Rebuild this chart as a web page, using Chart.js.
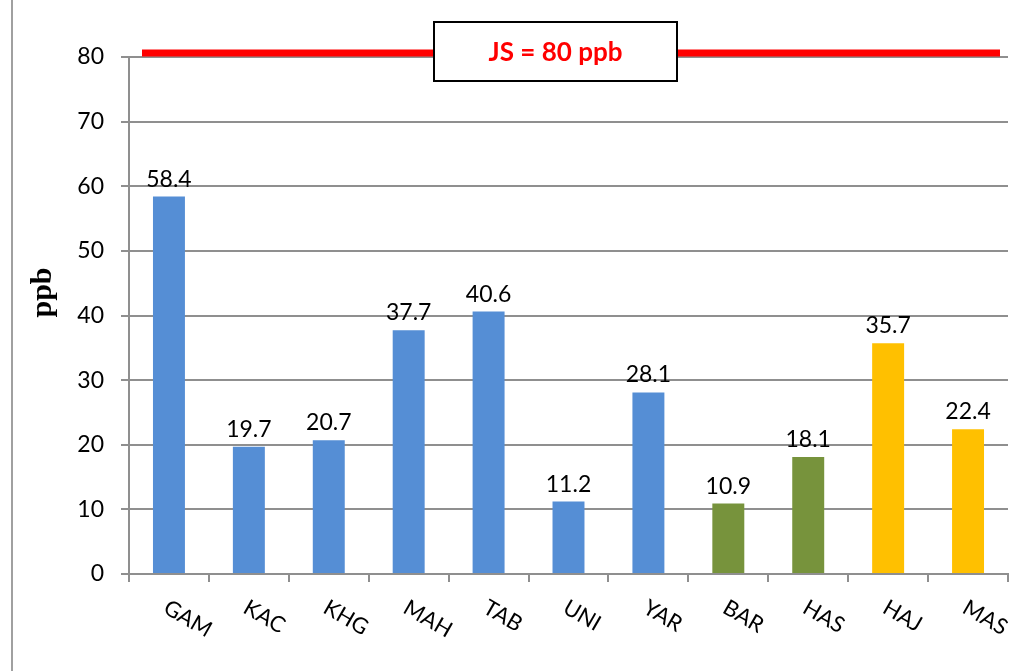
<!DOCTYPE html>
<html>
<head>
<meta charset="utf-8">
<script src="https://cdn.jsdelivr.net/npm/chart.js@4.4.0/dist/chart.umd.min.js"></script>
<style>
  html, body { margin: 0; padding: 0; background: #ffffff; }
  #wrap { position: relative; width: 1022px; height: 671px; overflow: hidden; }
  #frame { position: absolute; left: 11px; top: 0; width: 2px; height: 671px; background: #a0a0a0; }
  canvas { position: absolute; left: 0; top: 0; }
</style>
</head>
<body>
<div id="wrap">
  <div id="frame"></div>
  <canvas id="c" width="1022" height="671"></canvas>
</div>
<script>
// ---- data ----
const categories = ['GAM', 'KAC', 'KHG', 'MAH', 'TAB', 'UNI', 'YAR', 'BAR', 'HAS', 'HAJ', 'MAS'];
const values = [58.4, 19.7, 20.7, 37.7, 40.6, 11.2, 28.1, 10.9, 18.1, 35.7, 22.4];
const groups = ['A', 'A', 'A', 'A', 'A', 'A', 'A', 'B', 'B', 'C', 'C'];
const groupColors = { A: '#558ED5', B: '#77933C', C: '#FFC000' };
const yTicks = [0, 10, 20, 30, 40, 50, 60, 70, 80];
const limitValue = 80;
const limitLabel = 'JS = 80 ppb';
const yTitle = 'ppb';

const GRID = '#8f8f8f';
const FONT = 'Lato, "Open Sans", sans-serif';

const overlay = {
  id: 'overlay',
  afterDatasetsDraw(chart) {
    const ctx = chart.ctx;
    const area = chart.chartArea;
    const ys = chart.scales.y;
    const xs = chart.scales.x;
    const meta = chart.getDatasetMeta(0);

    // value labels
    ctx.save();
    ctx.fillStyle = '#000';
    ctx.font = '23px ' + FONT;
    ctx.textAlign = 'center';
    ctx.textBaseline = 'alphabetic';
    meta.data.forEach((bar, i) => {
      ctx.fillText(values[i].toFixed(1), bar.x, bar.y - 10);
    });
    ctx.restore();

    // category labels rotated clockwise
    ctx.save();
    ctx.fillStyle = '#000';
    ctx.font = '22px ' + FONT;
    ctx.textAlign = 'left';
    ctx.textBaseline = 'alphabetic';
    categories.forEach((c, i) => {
      const x = xs.getPixelForValue(i);
      ctx.save();
      ctx.translate(x - 7, area.bottom + 38);
      ctx.rotate(30 * Math.PI / 180);
      ctx.fillText(c, 0, 0);
      ctx.restore();
    });
    ctx.restore();

    // y axis title
    ctx.save();
    ctx.fillStyle = '#000';
    ctx.font = 'bold 30px "Liberation Serif", "DejaVu Serif", serif';
    ctx.textAlign = 'center';
    ctx.textBaseline = 'middle';
    ctx.translate(43, (area.top + area.bottom) / 2 - 23);
    ctx.rotate(-Math.PI / 2);
    ctx.fillText(yTitle, 0, 0);
    ctx.restore();

    // limit line
    const ly = ys.getPixelForValue(limitValue) - 4;
    ctx.save();
    ctx.strokeStyle = '#FF0000';
    ctx.lineWidth = 7;
    ctx.beginPath();
    ctx.moveTo(area.left + 13, ly);
    ctx.lineTo(area.right - 8, ly);
    ctx.stroke();
    ctx.restore();

    // limit label box
    const bw = 243, bh = 59;
    const bx = 434, by = ly - bh / 2 - 1.5;
    ctx.save();
    ctx.fillStyle = '#fff';
    ctx.fillRect(bx, by, bw, bh);
    ctx.strokeStyle = '#000';
    ctx.lineWidth = 2;
    ctx.strokeRect(bx, by, bw, bh);
    ctx.fillStyle = '#FF0000';
    ctx.font = 'bold 26px ' + FONT;
    ctx.textAlign = 'center';
    ctx.textBaseline = 'middle';
    ctx.fillText(limitLabel, bx + bw / 2, by + bh / 2 + 1);
    ctx.restore();
  }
};

new Chart(document.getElementById('c'), {
  type: 'bar',
  data: {
    labels: categories,
    datasets: [{
      data: values,
      backgroundColor: groups.map(g => groupColors[g]),
      borderWidth: 0,
      barPercentage: 0.4,
      categoryPercentage: 1.0
    }]
  },
  options: {
    responsive: false,
    animation: false,
    devicePixelRatio: 1,
    layout: { padding: { left: 0, right: 14, top: 57, bottom: 0 } },
    plugins: { legend: { display: false }, tooltip: { enabled: false } },
    scales: {
      x: {
        ticks: { display: false },
        grid: { drawOnChartArea: false, drawTicks: true, tickLength: 8, color: GRID, lineWidth: 2, offset: true },
        border: { color: GRID, width: 2 },
        afterFit(scale) { scale.height = 97; }
      },
      y: {
        min: 0,
        max: 80,
        afterBuildTicks(scale) { scale.ticks = yTicks.map(v => ({ value: v })); },
        ticks: { color: '#000', font: { family: FONT, size: 23 }, padding: 17 },
        grid: { color: GRID, lineWidth: 2, tickLength: 8, drawTicks: true },
        border: { color: GRID, width: 2 },
        afterFit(scale) { scale.width = 129; }
      }
    }
  },
  plugins: [overlay]
});
</script>
</body>
</html>
